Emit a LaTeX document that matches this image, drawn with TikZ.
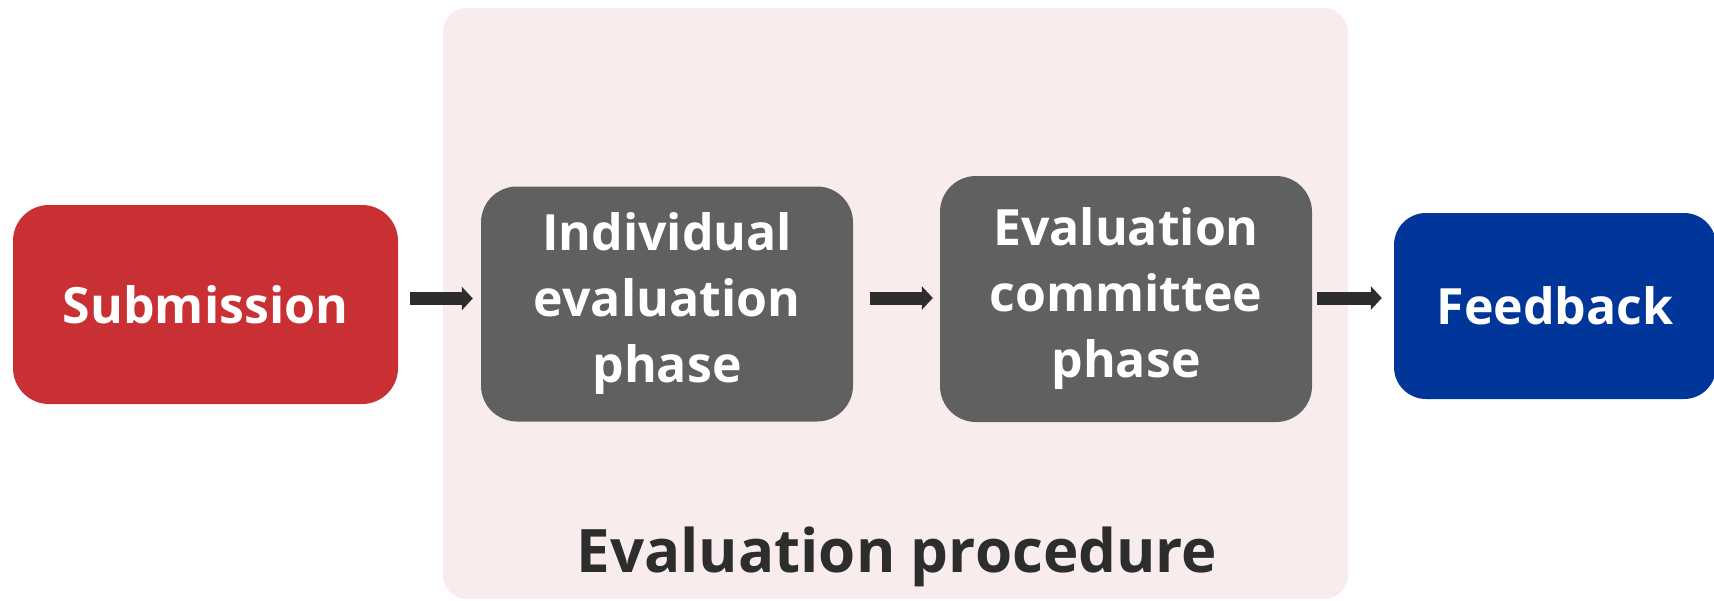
\documentclass[tikz,border=0pt]{standalone}
\usepackage{fontspec}
\setmainfont{Open Sans}
\usetikzlibrary{arrows.meta}
\definecolor{cred}{HTML}{C93033}
\definecolor{cgray}{HTML}{606060}
\definecolor{cblue}{HTML}{00369A}
\definecolor{cbg}{HTML}{F9ECEC}
\definecolor{cdark}{HTML}{2D2D2D}
\tikzset{
  box/.style={rectangle, rounded corners=36pt, inner sep=0pt, text=white,
    font=\fontsize{50}{66}\selectfont\bfseries, align=center},
  arr/.style={draw=cdark, line width=13pt, -{Triangle[length=11pt,width=23pt]}},
}
\begin{document}
\begin{tikzpicture}[x=1pt,y=-1pt]
\useasboundingbox (0,0) rectangle (1714,600);
\fill[cbg, rounded corners=24pt] (443,8) rectangle (1348,599);
\node[box, fill=cred, minimum width=385pt, minimum height=199pt] (sub) at (205.5,304.5) {Submission};
\node[box, fill=cgray, minimum width=372pt, minimum height=235pt] (ind) at (667,304) {Individual\\evaluation\\phase};
\node[box, fill=cgray, minimum width=372pt, minimum height=246pt] (com) at (1126,299) {Evaluation\\committee\\phase};
\node[box, fill=cblue, minimum width=322pt, minimum height=186pt, rounded corners=32pt] (fb) at (1555,306) {Feedback};
\node[text=cdark, font=\fontsize{60}{72}\selectfont\bfseries, anchor=base] (proc) at (897,572) {Evaluation procedure};
\coordinate (a1) at ([yshift=6pt]sub.east);
\draw[arr, shorten <=12pt, shorten >=8pt] (a1) -- (a1 -| ind.west);
\coordinate (a2) at ([yshift=6pt]ind.east);
\draw[arr, shorten <=17pt, shorten >=7pt] (a2) -- (a2 -| com.west);
\coordinate (a3) at ([yshift=1pt]com.east);
\draw[arr, shorten <=5pt, shorten >=12pt] (a3) -- (a3 -| fb.west);
\end{tikzpicture}
\end{document}
